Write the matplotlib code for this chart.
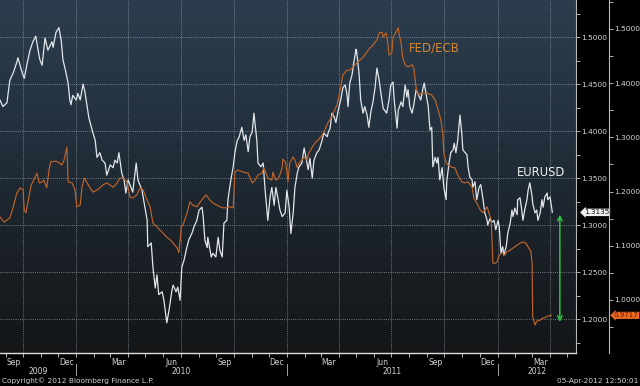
import numpy as np
import pandas as pd
import matplotlib
matplotlib.use('Agg')
import matplotlib.pyplot as plt
import matplotlib.dates as mdates
import matplotlib.transforms as mtransforms
from matplotlib.colors import LinearSegmentedColormap

# EURUSD (left scale, drawn on the inner right axis)
eur_dates = [
    '2009-08-22', '2009-08-27', '2009-09-03', '2009-09-08', '2009-09-14', '2009-09-20', '2009-09-22',
    '2009-09-29', '2009-10-03', '2009-10-08', '2009-10-13', '2009-10-18', '2009-10-23', '2009-10-27',
    '2009-10-30', '2009-11-03', '2009-11-08', '2009-11-13', '2009-11-20', '2009-11-22', '2009-11-27',
    '2009-12-02', '2009-12-06', '2009-12-09', '2009-12-14', '2009-12-18', '2009-12-21', '2009-12-23',
    '2009-12-26', '2010-01-01', '2010-01-04', '2010-01-08', '2010-01-13', '2010-01-16', '2010-01-20',
    '2010-01-23', '2010-01-30', '2010-02-03', '2010-02-06', '2010-02-11', '2010-02-15', '2010-02-20',
    '2010-02-23', '2010-03-01', '2010-03-06', '2010-03-09', '2010-03-13', '2010-03-16', '2010-03-21',
    '2010-03-25', '2010-03-28', '2010-04-01', '2010-04-06', '2010-04-09', '2010-04-15', '2010-04-18',
    '2010-04-25', '2010-04-30', '2010-05-04', '2010-05-05', '2010-05-11', '2010-05-14', '2010-05-18',
    '2010-05-21', '2010-05-24', '2010-05-30', '2010-06-02', '2010-06-07', '2010-06-11', '2010-06-16',
    '2010-06-18', '2010-06-23', '2010-06-26', '2010-06-30', '2010-07-03', '2010-07-07', '2010-07-12',
    '2010-07-15', '2010-07-21', '2010-07-24', '2010-07-29', '2010-08-02', '2010-08-07', '2010-08-09',
    '2010-08-12', '2010-08-16', '2010-08-17', '2010-08-23', '2010-08-26', '2010-08-31', '2010-09-04',
    '2010-09-07', '2010-09-11', '2010-09-14', '2010-09-19', '2010-09-21', '2010-09-26', '2010-09-30',
    '2010-10-03', '2010-10-07', '2010-10-10', '2010-10-15', '2010-10-19', '2010-10-22', '2010-10-26',
    '2010-10-29', '2010-11-02', '2010-11-05', '2010-11-10', '2010-11-12', '2010-11-17', '2010-11-21',
    '2010-11-24', '2010-11-29', '2010-12-03', '2010-12-06', '2010-12-10', '2010-12-13', '2010-12-17',
    '2010-12-20', '2010-12-24', '2010-12-29', '2011-01-01', '2011-01-05', '2011-01-08', '2011-01-12',
    '2011-01-15', '2011-01-19', '2011-01-22', '2011-01-27', '2011-01-31', '2011-02-03', '2011-02-07',
    '2011-02-10', '2011-02-14', '2011-02-17', '2011-02-22', '2011-02-26', '2011-03-03', '2011-03-06',
    '2011-03-12', '2011-03-14', '2011-03-17', '2011-03-20', '2011-03-24', '2011-03-27', '2011-03-31',
    '2011-04-05', '2011-04-08', '2011-04-12', '2011-04-15', '2011-04-17', '2011-04-20', '2011-04-24',
    '2011-04-27', '2011-05-01', '2011-05-02', '2011-05-06', '2011-05-09', '2011-05-13', '2011-05-16',
    '2011-05-20', '2011-05-23', '2011-05-27', '2011-05-30', '2011-06-03', '2011-06-06', '2011-06-10',
    '2011-06-13', '2011-06-17', '2011-06-23', '2011-06-27', '2011-06-30', '2011-07-04', '2011-07-06',
    '2011-07-11', '2011-07-13', '2011-07-18', '2011-07-21', '2011-07-25', '2011-07-28', '2011-07-30',
    '2011-08-02', '2011-08-06', '2011-08-09', '2011-08-13', '2011-08-16', '2011-08-21', '2011-08-25',
    '2011-08-27', '2011-08-30', '2011-09-03', '2011-09-06', '2011-09-09', '2011-09-11', '2011-09-15',
    '2011-09-18', '2011-09-20', '2011-09-23', '2011-09-27', '2011-09-30', '2011-10-04', '2011-10-05',
    '2011-10-09', '2011-10-12', '2011-10-16', '2011-10-18', '2011-10-21', '2011-10-24', '2011-10-28',
    '2011-10-31', '2011-11-02', '2011-11-06', '2011-11-09', '2011-11-11', '2011-11-14', '2011-11-18',
    '2011-11-19', '2011-11-23', '2011-11-26', '2011-11-30', '2011-12-03', '2011-12-07', '2011-12-10',
    '2011-12-14', '2011-12-15', '2011-12-19', '2011-12-22', '2011-12-26', '2011-12-29', '2012-01-02',
    '2012-01-04', '2012-01-07', '2012-01-10', '2012-01-12', '2012-01-16', '2012-01-19', '2012-01-23',
    '2012-01-26', '2012-01-28', '2012-01-31', '2012-02-04', '2012-02-05', '2012-02-09', '2012-02-12',
    '2012-02-14', '2012-02-18', '2012-02-21', '2012-02-23', '2012-02-26', '2012-03-01', '2012-03-02',
    '2012-03-06', '2012-03-09', '2012-03-11', '2012-03-15', '2012-03-18', '2012-03-20', '2012-03-23',
    '2012-03-27', '2012-03-28', '2012-04-01', '2012-04-05']
eur_vals = [
    1.433, 1.426, 1.430, 1.454, 1.462, 1.473, 1.478,
    1.463, 1.456, 1.472, 1.486, 1.495, 1.501, 1.486,
    1.476, 1.470, 1.499, 1.486, 1.495, 1.489, 1.505,
    1.510, 1.497, 1.476, 1.463, 1.451, 1.433, 1.428,
    1.438, 1.433, 1.440, 1.433, 1.450, 1.442, 1.426,
    1.414, 1.398, 1.390, 1.372, 1.377, 1.369, 1.366,
    1.353, 1.364, 1.361, 1.369, 1.366, 1.377, 1.355,
    1.348, 1.334, 1.348, 1.340, 1.335, 1.366, 1.348,
    1.337, 1.319, 1.305, 1.277, 1.281, 1.255, 1.233,
    1.247, 1.226, 1.229, 1.220, 1.196, 1.210, 1.231,
    1.236, 1.229, 1.234, 1.220, 1.255, 1.263, 1.277,
    1.284, 1.292, 1.298, 1.305, 1.316, 1.319, 1.309,
    1.284, 1.276, 1.287, 1.266, 1.270, 1.266, 1.287,
    1.273, 1.266, 1.302, 1.305, 1.327, 1.348, 1.362,
    1.377, 1.390, 1.393, 1.404, 1.390, 1.396, 1.378,
    1.394, 1.399, 1.419, 1.390, 1.366, 1.362, 1.366,
    1.340, 1.305, 1.330, 1.340, 1.321, 1.340, 1.327,
    1.316, 1.309, 1.313, 1.337, 1.319, 1.291, 1.313,
    1.340, 1.355, 1.362, 1.366, 1.382, 1.372, 1.359,
    1.371, 1.350, 1.369, 1.377, 1.380, 1.390, 1.398,
    1.394, 1.399, 1.403, 1.419, 1.415, 1.409, 1.422,
    1.435, 1.446, 1.449, 1.440, 1.426, 1.451, 1.460,
    1.473, 1.487, 1.484, 1.462, 1.433, 1.419, 1.426,
    1.417, 1.404, 1.422, 1.430, 1.447, 1.467, 1.454,
    1.440, 1.424, 1.419, 1.433, 1.449, 1.452, 1.433,
    1.403, 1.422, 1.431, 1.426, 1.449, 1.436, 1.444,
    1.426, 1.419, 1.428, 1.444, 1.440, 1.433, 1.446,
    1.451, 1.440, 1.426, 1.401, 1.404, 1.362, 1.372,
    1.366, 1.372, 1.348, 1.361, 1.340, 1.327, 1.346,
    1.366, 1.377, 1.380, 1.387, 1.377, 1.390, 1.417,
    1.398, 1.380, 1.377, 1.375, 1.362, 1.351, 1.348,
    1.340, 1.346, 1.327, 1.340, 1.343, 1.327, 1.313,
    1.305, 1.300, 1.307, 1.303, 1.305, 1.295, 1.305,
    1.298, 1.270, 1.277, 1.268, 1.277, 1.292, 1.302,
    1.316, 1.309, 1.318, 1.311, 1.327, 1.329, 1.316,
    1.305, 1.319, 1.327, 1.337, 1.345, 1.330, 1.323,
    1.313, 1.316, 1.305, 1.313, 1.327, 1.319, 1.330,
    1.334, 1.327, 1.330, 1.3135]

# FED/ECB (outer right scale)
fed_dates = [
    '2009-08-22', '2009-08-29', '2009-09-08', '2009-09-14', '2009-09-20', '2009-09-26', '2009-10-01',
    '2009-10-03', '2009-10-06', '2009-10-10', '2009-10-15', '2009-10-18', '2009-10-25', '2009-10-29',
    '2009-11-03', '2009-11-06', '2009-11-11', '2009-11-15', '2009-11-18', '2009-11-25', '2009-11-30',
    '2009-12-07', '2009-12-11', '2009-12-16', '2009-12-18', '2009-12-25', '2009-12-30', '2010-01-02',
    '2010-01-08', '2010-01-11', '2010-01-15', '2010-01-20', '2010-01-25', '2010-01-30', '2010-02-06',
    '2010-02-11', '2010-02-16', '2010-02-23', '2010-03-01', '2010-03-06', '2010-03-13', '2010-03-18',
    '2010-03-23', '2010-03-30', '2010-04-04', '2010-04-09', '2010-04-16', '2010-04-22', '2010-04-27',
    '2010-05-04', '2010-05-09', '2010-05-14', '2010-05-21', '2010-05-26', '2010-05-31', '2010-06-07',
    '2010-06-13', '2010-06-18', '2010-06-25', '2010-06-28', '2010-07-02', '2010-07-05', '2010-07-12',
    '2010-07-17', '2010-07-22', '2010-07-29', '2010-08-04', '2010-08-09', '2010-08-14', '2010-08-21',
    '2010-08-26', '2010-09-02', '2010-09-07', '2010-09-12', '2010-09-19', '2010-09-24', '2010-09-30',
    '2010-10-03', '2010-10-08', '2010-10-17', '2010-10-26', '2010-11-02', '2010-11-07', '2010-11-12',
    '2010-11-19', '2010-11-22', '2010-11-26', '2010-11-29', '2010-12-06', '2010-12-08', '2010-12-13',
    '2010-12-18', '2010-12-24', '2010-12-25', '2010-12-30', '2011-01-03', '2011-01-06', '2011-01-12',
    '2011-01-15', '2011-01-19', '2011-01-22', '2011-01-27', '2011-01-31', '2011-02-05', '2011-02-08',
    '2011-02-14', '2011-02-19', '2011-02-24', '2011-03-03', '2011-03-08', '2011-03-13', '2011-03-20',
    '2011-03-25', '2011-03-29', '2011-04-01', '2011-04-05', '2011-04-08', '2011-04-15', '2011-04-20',
    '2011-04-26', '2011-05-02', '2011-05-08', '2011-05-13', '2011-05-20', '2011-05-25', '2011-05-30',
    '2011-06-06', '2011-06-10', '2011-06-15', '2011-06-17', '2011-06-22', '2011-06-25', '2011-06-27',
    '2011-07-02', '2011-07-04', '2011-07-09', '2011-07-13', '2011-07-14', '2011-07-18', '2011-07-21',
    '2011-07-25', '2011-07-30', '2011-08-06', '2011-08-09', '2011-08-13', '2011-08-16', '2011-08-23',
    '2011-09-01', '2011-09-09', '2011-09-15', '2011-09-20', '2011-09-25', '2011-09-28', '2011-09-30',
    '2011-10-04', '2011-10-07', '2011-10-14', '2011-10-19', '2011-10-24', '2011-10-31', '2011-11-06',
    '2011-11-11', '2011-11-18', '2011-11-21', '2011-11-26', '2011-12-02', '2011-12-07', '2011-12-14',
    '2011-12-17', '2011-12-21', '2011-12-22', '2011-12-24', '2011-12-28', '2011-12-31', '2012-01-04',
    '2012-01-09', '2012-01-14', '2012-01-17', '2012-01-23', '2012-01-28', '2012-02-04', '2012-02-09',
    '2012-02-14', '2012-02-19', '2012-02-23', '2012-02-28', '2012-03-01', '2012-03-02', '2012-03-06',
    '2012-03-09', '2012-03-15', '2012-03-20', '2012-03-23', '2012-03-27', '2012-04-03']
fed_vals = [
    1.153, 1.144, 1.151, 1.172, 1.197, 1.207, 1.203,
    1.166, 1.161, 1.184, 1.212, 1.218, 1.234, 1.216,
    1.218, 1.221, 1.207, 1.240, 1.255, 1.256, 1.255,
    1.249, 1.258, 1.282, 1.218, 1.216, 1.203, 1.172,
    1.175, 1.208, 1.225, 1.216, 1.207, 1.199, 1.203,
    1.207, 1.212, 1.216, 1.212, 1.208, 1.216, 1.225,
    1.225, 1.218, 1.190, 1.188, 1.194, 1.207, 1.203,
    1.184, 1.172, 1.142, 1.135, 1.129, 1.124, 1.116,
    1.111, 1.105, 1.096, 1.087, 1.135, 1.138, 1.160,
    1.181, 1.175, 1.172, 1.181, 1.188, 1.194, 1.184,
    1.179, 1.175, 1.172, 1.170, 1.170, 1.172, 1.170,
    1.236, 1.240, 1.236, 1.234, 1.216, 1.221, 1.231,
    1.234, 1.244, 1.234, 1.225, 1.221, 1.236, 1.221,
    1.225, 1.244, 1.260, 1.254, 1.218, 1.253, 1.264,
    1.258, 1.244, 1.253, 1.258, 1.264, 1.258, 1.271,
    1.282, 1.290, 1.295, 1.304, 1.314, 1.327, 1.338,
    1.351, 1.360, 1.375, 1.397, 1.415, 1.424, 1.424,
    1.430, 1.437, 1.443, 1.448, 1.458, 1.465, 1.470,
    1.480, 1.493, 1.494, 1.485, 1.493, 1.474, 1.452,
    1.456, 1.485, 1.494, 1.502, 1.493, 1.474, 1.446,
    1.434, 1.430, 1.434, 1.428, 1.391, 1.378, 1.382,
    1.382, 1.378, 1.369, 1.351, 1.332, 1.308, 1.271,
    1.253, 1.249, 1.245, 1.244, 1.231, 1.218, 1.216,
    1.218, 1.208, 1.188, 1.179, 1.166, 1.161, 1.172,
    1.161, 1.148, 1.124, 1.068, 1.068, 1.070, 1.083,
    1.087, 1.083, 1.089, 1.092, 1.096, 1.101, 1.105,
    1.107, 1.105, 1.098, 1.089, 1.068, 0.969, 0.954,
    0.961, 0.963, 0.967, 0.967, 0.970, 0.9717]

eur_last = 1.3135
fed_last = 0.9717
eur_ticks = [1.20, 1.25, 1.30, 1.35, 1.40, 1.45, 1.50]
fed_ticks = [1.0, 1.1, 1.2, 1.3, 1.4, 1.5]

eur_dates = pd.to_datetime(eur_dates)
fed_dates = pd.to_datetime(fed_dates)

W, H = 640, 386
fig = plt.figure(figsize=(W / 100, H / 100), dpi=100, facecolor='black')
rect = [0, 1 - 353 / H, 576 / W, 353 / H]

# gradient background behind the plot
bg = fig.add_axes(rect, zorder=0)
cmap = LinearSegmentedColormap.from_list('bb', ['#141618', '#1b2229', '#243240', '#2c3d4d'])
bg.imshow(np.linspace(0, 1, 256).reshape(-1, 1), cmap=cmap, origin='lower',
          aspect='auto', extent=[0, 1, 0, 1])
bg.axis('off')

ax = fig.add_axes(rect, zorder=1)
ax.patch.set_visible(False)
ax2 = ax.twinx()

grid_kw = dict(color='#a4aeb6', lw=0.6, ls=(0, (1, 1.6)), alpha=0.85)

ax.plot(eur_dates, eur_vals, color='#e2e6ea', lw=0.9, zorder=3)
ax2.plot(fed_dates, fed_vals, color='#bd6428', lw=0.85, zorder=2)

xmin, xmax = pd.Timestamp('2009-08-22'), pd.Timestamp('2012-05-16')
ax.set_xlim(xmin, xmax)
ax.set_ylim(1.1639, 1.5394)
ax2.set_ylim(0.9022, 1.5535)

# left series scale, on the inner right axis
ax.yaxis.tick_right()
ax.set_yticks(eur_ticks)
ax.set_yticks(np.arange(1.175, 1.54, 0.025), minor=True)
ax.yaxis.set_major_formatter(plt.FormatStrFormatter('%.4f'))
ax.tick_params(axis='y', which='both', direction='out', color='#c8c8c8',
               labelcolor='#d6d6d6', labelsize=5.4, pad=1, length=3, width=0.6)
ax.grid(axis='y', which='major', **grid_kw)

ax2.set_yticks(fed_ticks)
ax2.set_yticks(np.arange(0.95, 1.56, 0.05), minor=True)
ax2.yaxis.set_major_formatter(plt.FormatStrFormatter('%.4f'))
ax2.tick_params(axis='y', which='both', direction='out', color='#c8c8c8',
                labelcolor='#d6d6d6', labelsize=5.4, pad=1, length=3, width=0.6)
ax2.spines['right'].set_position(('axes', 609 / 576))

for a in (ax, ax2):
    for s in ('left', 'top'):
        a.spines[s].set_visible(False)
    a.spines['right'].set_color('#b8b8b8')
    a.spines['right'].set_linewidth(0.8)
ax2.spines['bottom'].set_visible(False)
ax.spines['bottom'].set_color('#e0e0e0')
ax.spines['bottom'].set_linewidth(1.0)

# x axis: month labels mid-month, monthly tick marks, quarter grid lines
ax.xaxis.set_major_locator(mdates.MonthLocator(bymonth=[3, 6, 9, 12], bymonthday=15))
ax.xaxis.set_major_formatter(mdates.DateFormatter('%b'))
ax.xaxis.set_minor_locator(mdates.MonthLocator())
ax.tick_params(axis='x', which='major', length=0, labelsize=5.5, labelcolor='#d6d6d6', pad=3.5)
ax.tick_params(axis='x', which='minor', length=3, color='#d0d0d0', width=0.6, direction='out')

for q in pd.date_range('2009-10-01', '2012-04-01', freq='QS'):
    ax.axvline(q, zorder=1, **grid_kw)

trans = mtransforms.blended_transform_factory(ax.transData, fig.transFigure)
years = [2009, 2010, 2011, 2012]
for y in years:
    a = max(pd.Timestamp(f'{y}-01-01'), xmin)
    b = min(pd.Timestamp(f'{y + 1}-01-01'), xmax)
    ax.text(a + (b - a) / 2, 1 - 371 / H, str(y), transform=trans, ha='center', va='center',
            fontsize=5.5, color='#d6d6d6')
    if y > 2009:
        ax.plot([pd.Timestamp(f'{y}-01-01')] * 2, [1 - 364 / H, 1 - 375 / H], transform=trans,
                color='#bbbbbb', lw=0.6, clip_on=False)

# annotations
ax.text(pd.Timestamp('2011-08-01'), 1.488, 'FED/ECB', color='#d8842f', fontsize=8.5,
        ha='left', va='center')
ax.text(pd.Timestamp('2012-02-04'), 1.356, 'EURUSD', color='#eeeeee', fontsize=8.3,
        ha='left', va='center')
ax.annotate('', xy=(pd.Timestamp('2012-04-18'), 1.197), xytext=(pd.Timestamp('2012-04-18'), 1.311),
            arrowprops=dict(arrowstyle='<->', color='#2fc23a', lw=1.1, mutation_scale=8,
                            shrinkA=0, shrinkB=0))

ax.text(584 / 576, eur_last, f'{eur_last:.4f}', transform=ax.get_yaxis_transform(),
        fontsize=5.2, color='#111111', ha='left', va='center', clip_on=False,
        bbox=dict(boxstyle='larrow,pad=0.1', fc='#eeeeee', ec='none'))
ax2.text(614 / 576, fed_last, f'{fed_last:.4f}', transform=ax2.get_yaxis_transform(),
         fontsize=5.0, color='#5a1800', ha='left', va='center', clip_on=False,
         bbox=dict(boxstyle='larrow,pad=0.08', fc='#ef6a22', ec='none'))

fig.text(2 / W, 1 - 381 / H, 'Copyright\u00a9 2012 Bloomberg Finance L.P.', fontsize=5.3,
         color='#cfcfcf', ha='left', va='center')
fig.text(638 / W, 1 - 381 / H, '05-Apr-2012 12:50:01', fontsize=5.3,
         color='#cfcfcf', ha='right', va='center')

fig.savefig('out.png', dpi=100, facecolor='black')
